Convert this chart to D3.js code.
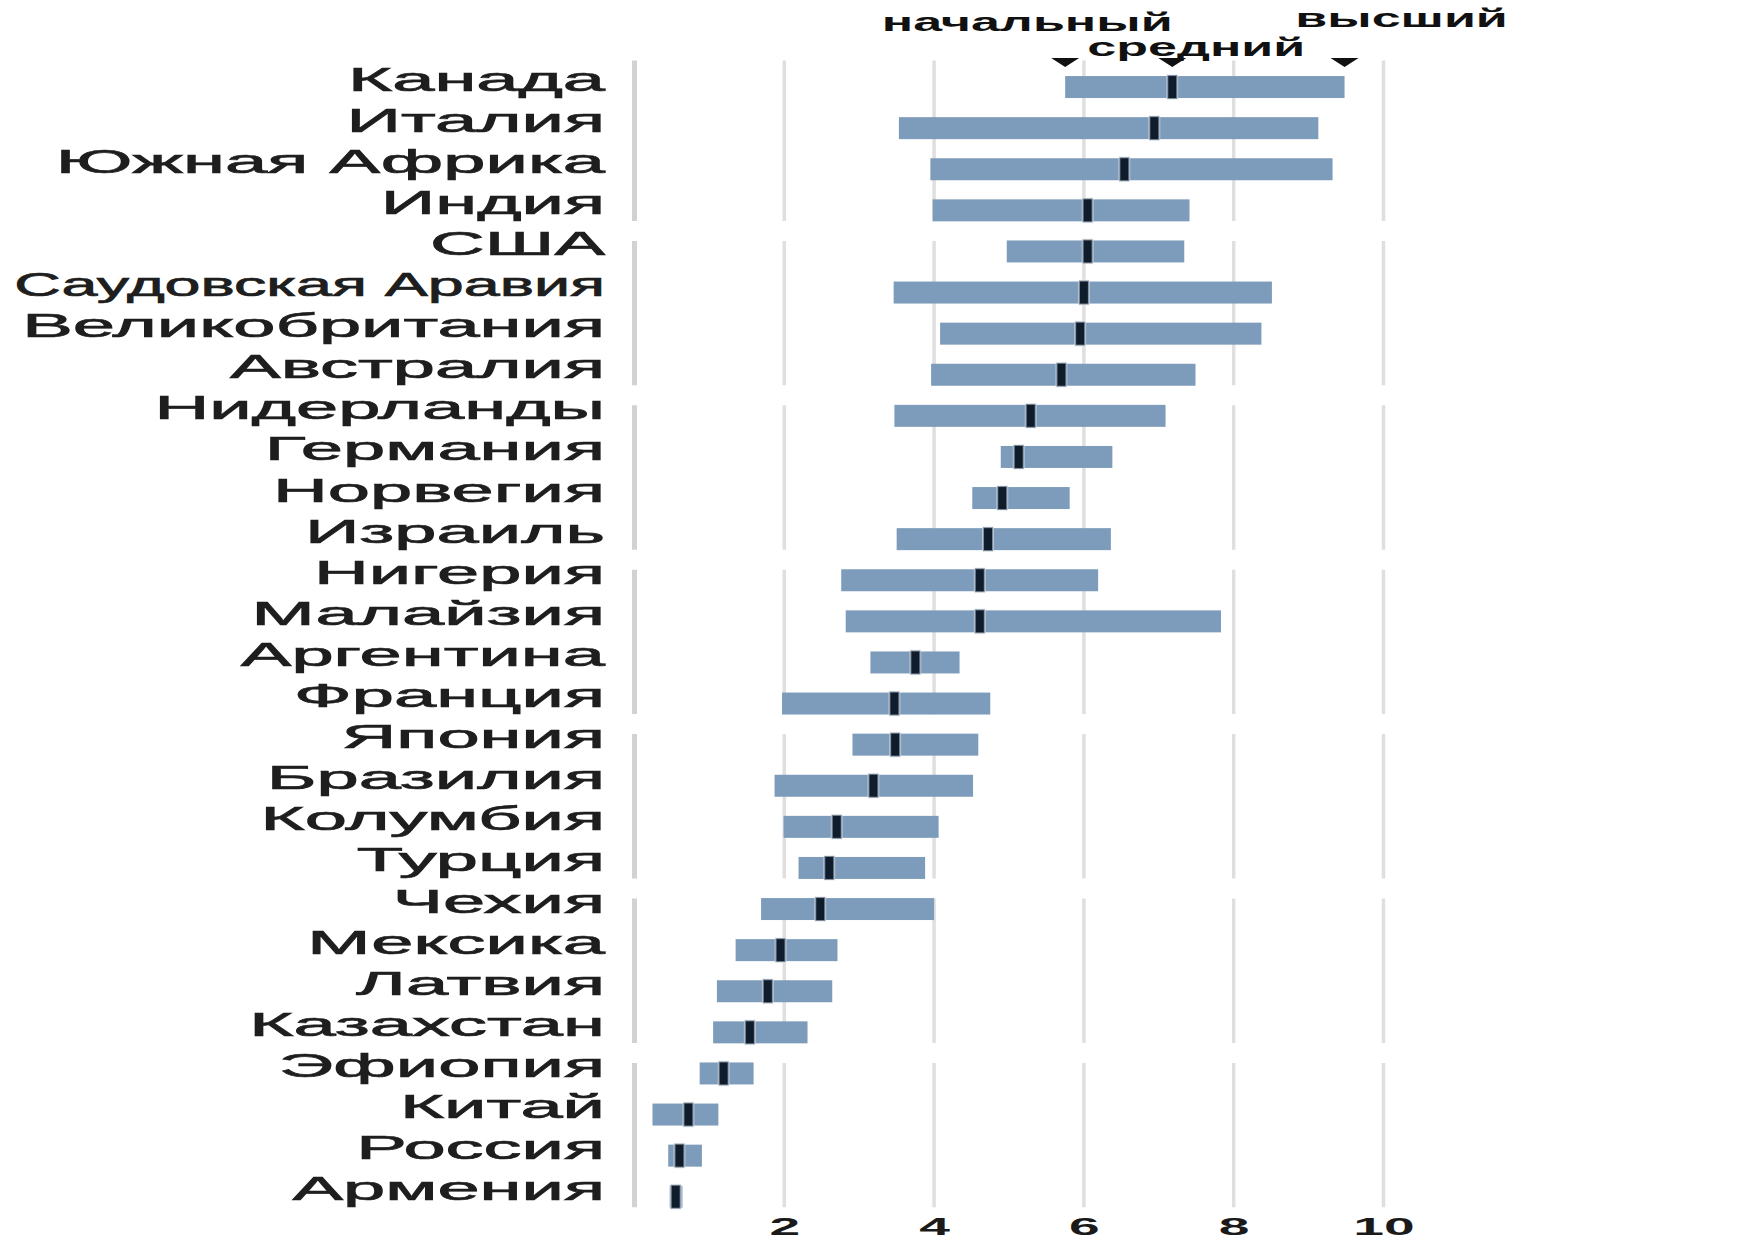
<!DOCTYPE html>
<html>
<head>
<meta charset="utf-8">
<script src="https://cdn.jsdelivr.net/npm/d3@7"></script>
<style>
  body { margin: 0; background: #fff; }
  svg { display: block; font-family: "Liberation Sans", Arial, sans-serif; }
</style>
</head>
<body>
<div id="chart"></div>
<script>
// страны сверху вниз
var countries = ["Канада", "Италия", "Южная Африка", "Индия", "США", "Саудовская Аравия",
    "Великобритания", "Австралия", "Нидерланды", "Германия", "Норвегия", "Израиль",
    "Нигерия", "Малайзия", "Аргентина", "Франция", "Япония", "Бразилия", "Колумбия",
    "Турция", "Чехия", "Мексика", "Латвия", "Казахстан", "Эфиопия", "Китай", "Россия", "Армения"];

// начальный / средний / высший
var lowVals  = [5.75, 3.53, 3.95, 3.98, 4.97, 3.46, 4.08, 3.96, 3.47, 4.89, 4.51, 3.50, 2.76, 2.82,
    3.15, 1.97, 2.91, 1.87, 1.99, 2.19, 1.69, 1.35, 1.10, 1.05, 0.87, 0.24, 0.45, 0.47];
var medVals  = [7.18, 6.94, 6.54, 6.05, 6.05, 6.00, 5.95, 5.70, 5.29, 5.13, 4.91, 4.72, 4.61, 4.61,
    3.75, 3.47, 3.48, 3.19, 2.70, 2.60, 2.48, 1.95, 1.78, 1.54, 1.19, 0.72, 0.60, 0.55];
var highVals = [9.48, 9.13, 9.32, 7.41, 7.34, 8.51, 8.37, 7.49, 7.09, 6.38, 5.81, 6.36, 6.19, 7.83,
    4.34, 4.75, 4.59, 4.52, 4.06, 3.88, 4.00, 2.71, 2.64, 2.31, 1.59, 1.12, 0.90, 0.64];

var tickVals = [2, 4, 6, 8, 10];
var markerLabels = ["начальный", "средний", "высший"];

var width = 1758, height = 1260;
var groupSize = 4;

var dataset = countries.map(function (c, i) {
    return {name: c, low: lowVals[i], med: medVals[i], high: highVals[i]};
});

var svg = d3.select("#chart").append("svg")
    .attr("width", width)
    .attr("height", height);

var xScale = d3.scaleLinear()
    .domain([0, 10])
    .range([634.5, 1383.5]);

var yScale = d3.scaleBand()
    .domain(countries)
    .range([66.5, 1217.3])
    .paddingInner(0.465)
    .paddingOuter(0.2325);

var gap = (yScale.step() - yScale.bandwidth()) / 2;

// группы по 4 строки - линии сетки с разрывами
var groups = d3.range(Math.ceil(countries.length / groupSize)).map(function (g) {
    var first = countries[g * groupSize];
    var last = countries[Math.min(countries.length, (g + 1) * groupSize) - 1];
    var top = yScale(first) - gap;
    var bottom = yScale(last) + yScale.bandwidth() + gap;
    return {y0: g === 0 ? top - 6 : top + 10, y1: bottom - 10};
});

var gridData = [];
groups.forEach(function (g) {
    [0].concat(tickVals).forEach(function (v) {
        gridData.push({v: v, y0: g.y0, y1: g.y1});
    });
});

svg.append("g").attr("class", "grid")
    .selectAll("line")
    .data(gridData)
    .enter()
    .append("line")
    .attr("x1", function (d) { return xScale(d.v); })
    .attr("x2", function (d) { return xScale(d.v); })
    .attr("y1", function (d) { return d.y0; })
    .attr("y2", function (d) { return d.y1; })
    .attr("stroke", function (d) { return d.v === 0 ? "#d2d2d2" : "#dfdfdf"; })
    .attr("stroke-width", function (d) { return d.v === 0 ? 5 : 3.5; });

// полосы
svg.append("g").attr("class", "bars")
    .selectAll("rect")
    .data(dataset)
    .enter()
    .append("rect")
    .attr("x", function (d) { return xScale(d.low); })
    .attr("y", function (d) { return yScale(d.name); })
    .attr("width", function (d) { return xScale(d.high) - xScale(d.low); })
    .attr("height", yScale.bandwidth())
    .attr("fill", "#7d9bba");

// медиана
var medW = 10;
svg.append("g").attr("class", "medians")
    .selectAll("rect")
    .data(dataset)
    .enter()
    .append("rect")
    .attr("x", function (d) { return xScale(d.med) - medW / 2; })
    .attr("y", function (d) { return yScale(d.name) - 1; })
    .attr("width", medW)
    .attr("height", yScale.bandwidth() + 2)
    .attr("fill", "#0f1c2c")
    .attr("stroke", "rgba(225,234,243,0.55)")
    .attr("stroke-width", 2);

// подписи стран
var labelRight = 605, labelLeft = 14, labelStretch = 2.3;
var yAxis = d3.axisLeft(yScale).tickSize(0);
var yG = svg.append("g")
    .attr("transform", "translate(" + labelRight + ",0)")
    .call(yAxis);
yG.select(".domain").remove();
yG.selectAll("text")
    .attr("x", 0)
    .attr("y", 3.5)
    .attr("dy", null)
    .attr("fill", "#1e1e1e")
    .attr("stroke", "#1e1e1e")
    .attr("stroke-width", 0.7)
    .style("font-size", "33px")
    .style("font-family", "'Liberation Sans', Arial, sans-serif")
    .attr("transform", function () {
        // длинные подписи сжимаем, чтобы не вылезали за край
        var w = this.getComputedTextLength();
        var s = Math.min(labelStretch, (labelRight - labelLeft) / w);
        return "scale(" + s + ",1)";
    });

// ось X
var xAxis = d3.axisBottom(xScale).tickValues(tickVals).tickSize(0);
var xG = svg.append("g")
    .attr("transform", "translate(0,1235)")
    .call(xAxis);
xG.select(".domain").remove();
xG.selectAll("text")
    .attr("y", 0)
    .attr("dy", null)
    .attr("transform", "scale(2.3,1)")
    .attr("fill", "#1a1a1a")
    .style("font-size", "24px")
    .style("font-weight", "bold")
    .style("font-family", "'Liberation Sans', Arial, sans-serif");

// легенда сверху по первой строке (Канада)
var first = dataset[0];
var markers = [
    {v: first.low, label: markerLabels[0], dx: -38, by: 31},
    {v: first.med, label: markerLabels[1], dx: 24, by: 56},
    {v: first.high, label: markerLabels[2], dx: 57, by: 27}
];

svg.append("g").attr("class", "markers")
    .selectAll("path")
    .data(markers)
    .enter()
    .append("path")
    .attr("d", function (d) {
        var cx = xScale(d.v);
        return "M" + (cx - 14) + ",58L" + (cx + 14) + ",58L" + cx + ",67Z";
    })
    .attr("fill", "#111");

svg.append("g").attr("class", "marker-labels")
    .selectAll("text")
    .data(markers)
    .enter()
    .append("text")
    .attr("transform", function (d) {
        return "translate(" + (xScale(d.v) + d.dx) + "," + d.by + ") scale(2,1)";
    })
    .attr("text-anchor", "middle")
    .attr("fill", "#111")
    .style("font-size", "26px")
    .style("font-weight", "bold")
    .text(function (d) { return d.label; });
</script>
</body>
</html>
